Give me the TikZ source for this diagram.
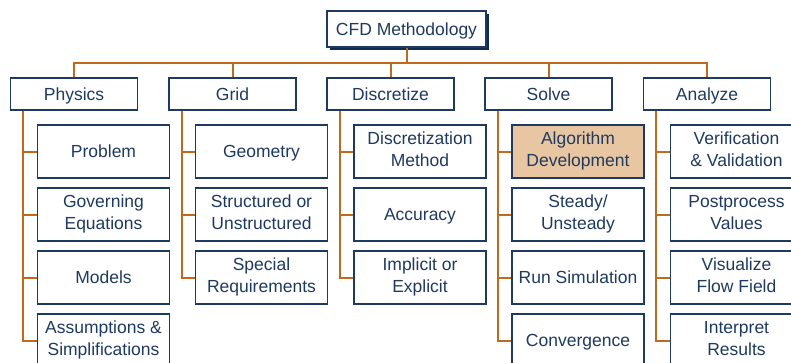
\documentclass[tikz,border=0pt]{standalone}
\usepackage{fontspec}
\setmainfont{Liberation Sans}
\usetikzlibrary{shadows}
\definecolor{navy}{HTML}{1F3A61}
\definecolor{orangeln}{HTML}{C06A1F}
\definecolor{hlfill}{HTML}{E9C6A2}
\definecolor{shadowc}{HTML}{0E2B52}
\newcommand\linestrut{\rule[-4.4pt]{0pt}{21.4pt}}
\tikzset{
  boxbase/.style={draw=navy, line width=1.1pt, fill=white, text=navy, inner sep=0pt, align=center,
    font=\fontsize{17.5}{21.5}\selectfont,
    execute at begin node={\linestrut}, execute at end node={\linestrut}},
  topbox/.style={boxbase, minimum width=159pt, minimum height=36pt,
    drop shadow={shadow xshift=2.6pt, shadow yshift=-2.6pt, fill=shadowc, opacity=1}},
  catbox/.style={boxbase, minimum width=127pt, minimum height=32pt},
  subbox/.style={boxbase, minimum width=132pt, minimum height=53pt},
  hlbox/.style={subbox, fill=hlfill},
  link/.style={draw=orangeln, line width=2pt, line join=miter}
}
\begin{document}
\begin{tikzpicture}[x=1pt,y=-1pt]
\useasboundingbox (0,0) rectangle (791,362);
\clip (0,0) rectangle (791,362);
\coordinate (busy) at (0,63);
% top
\node[topbox] (cfd) at (406.5,29) {CFD Methodology};
% categories
\node[catbox] (phys) at (74,94) {Physics};
\node[catbox] (grid) at (232.5,94) {Grid};
\node[catbox] (disc) at (390.5,94) {Discretize};
\node[catbox] (solve) at (548.5,94) {Solve};
\node[catbox] (ana) at (707,94) {Analyze};
% physics
\node[subbox] (p1) at (103.5,151.5) {Problem};
\node[subbox] (p2) at (103.5,214.5) {Governing\\Equations};
\node[subbox] (p3) at (103.5,277.5) {Models};
\node[subbox] (p4) at (103.5,340.5) {Assumptions \&\\Simplifications};
% grid
\node[subbox] (g1) at (261.5,151.5) {Geometry};
\node[subbox] (g2) at (261.5,214.5) {Structured or\\Unstructured};
\node[subbox] (g3) at (261.5,277.5) {Special\\Requirements};
% discretize
\node[subbox] (d1) at (420,151.5) {Discretization\\Method};
\node[subbox] (d2) at (420,214.5) {Accuracy};
\node[subbox] (d3) at (420,277.5) {Implicit or\\Explicit};
% solve
\node[hlbox] (s1) at (578,151.5) {Algorithm\\Development};
\node[subbox] (s2) at (578,214.5) {Steady/\\Unsteady};
\node[subbox] (s3) at (578,277.5) {Run Simulation};
\node[subbox] (s4) at (578,340.5) {Convergence};
% analyze
\node[subbox] (a1) at (736.5,151.5) {Verification\\\& Validation};
\node[subbox] (a2) at (736.5,214.5) {Postprocess\\Values};
\node[subbox] (a3) at (736.5,277.5) {Visualize\\Flow Field};
\node[subbox] (a4) at (736.5,340.5) {Interpret\\Results};
% top connectors
\draw[link] (cfd.south) -- (cfd.south |- busy);
\draw[link] (phys.north) -- (phys.north |- busy) -- (ana.north |- busy) -- (ana.north);
\draw[link] (grid.north) -- (grid.north |- busy);
\draw[link] (disc.north) -- (disc.north |- busy);
\draw[link] (solve.north) -- (solve.north |- busy);
% branch points
\coordinate (physb) at ([xshift=13.5pt]phys.south west);
\coordinate (gridb) at ([xshift=13.5pt]grid.south west);
\coordinate (discb) at ([xshift=13.5pt]disc.south west);
\coordinate (solveb) at ([xshift=13.5pt]solve.south west);
\coordinate (anab) at ([xshift=13.5pt]ana.south west);
% physics branch
\draw[link] (physb) |- (p4.west);
\draw[link] (physb |- p1.west) -- (p1.west);
\draw[link] (physb |- p2.west) -- (p2.west);
\draw[link] (physb |- p3.west) -- (p3.west);
% grid branch
\draw[link] (gridb) |- (g3.west);
\draw[link] (gridb |- g1.west) -- (g1.west);
\draw[link] (gridb |- g2.west) -- (g2.west);
% discretize branch
\draw[link] (discb) |- (d3.west);
\draw[link] (discb |- d1.west) -- (d1.west);
\draw[link] (discb |- d2.west) -- (d2.west);
% solve branch
\draw[link] (solveb) |- (s4.west);
\draw[link] (solveb |- s1.west) -- (s1.west);
\draw[link] (solveb |- s2.west) -- (s2.west);
\draw[link] (solveb |- s3.west) -- (s3.west);
% analyze branch
\draw[link] (anab) |- (a4.west);
\draw[link] (anab |- a1.west) -- (a1.west);
\draw[link] (anab |- a2.west) -- (a2.west);
\draw[link] (anab |- a3.west) -- (a3.west);
\end{tikzpicture}
\end{document}
